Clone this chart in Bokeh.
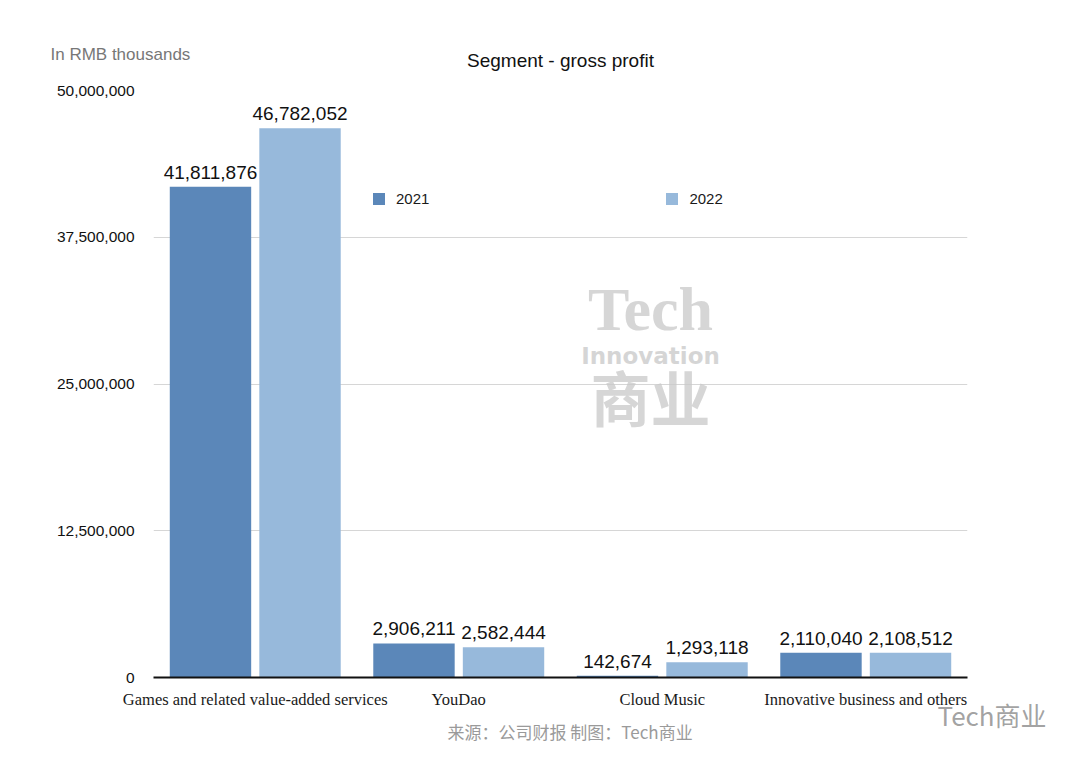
from bokeh.plotting import figure
from bokeh.models import (ColumnDataSource, FactorRange, Label, Legend, LegendItem, Title,
                          FixedTicker, NumeralTickFormatter)
from bokeh.transform import dodge
from bokeh.core.properties import value
from bokeh.embed import file_html
from bokeh.resources import INLINE

categories = ["Games and related value-added services", "YouDao", "Cloud Music",
              "Innovative business and others"]
gp_2021 = [41811876, 2906211, 142674, 2110040]
gp_2022 = [46782052, 2582444, 1293118, 2108512]
y_ticks = [0, 12500000, 25000000, 37500000, 50000000]

C2021 = "#5b87b9"
C2022 = "#97b9db"

src = ColumnDataSource(dict(
    cat=categories,
    v21=gp_2021,
    v22=gp_2022,
    t21=[f"{v:,}" for v in gp_2021],
    t22=[f"{v:,}" for v in gp_2022],
))

p = figure(x_range=FactorRange(*categories, range_padding=0), y_range=(0, 50000000),
           frame_width=814, frame_height=587,
           min_border_left=153, min_border_right=113, min_border_top=90, min_border_bottom=82,
           output_backend="svg", toolbar_location=None, background_fill_color="white",
           border_fill_color="white", outline_line_color=None)

r21 = p.vbar(x=dodge("cat", -0.22, range=p.x_range), top="v21", width=0.4, source=src,
             fill_color=C2021, line_color=None)
r22 = p.vbar(x=dodge("cat", 0.22, range=p.x_range), top="v22", width=0.4, source=src,
             fill_color=C2022, line_color=None)

for col, vcol, off in (("t21", "v21", -0.22), ("t22", "v22", 0.22)):
    p.text(x=dodge("cat", off, range=p.x_range), y=vcol, text=col, source=src,
           text_align="center", text_baseline="bottom", y_offset=-8,
           text_font=value("Liberation Sans"), text_font_size="19px", text_color="#111111")

# axes
p.yaxis.ticker = FixedTicker(ticks=y_ticks)
p.yaxis.formatter = NumeralTickFormatter(format="0,0")
p.yaxis.axis_line_color = None
p.yaxis.major_tick_line_color = None
p.yaxis.minor_tick_line_color = None
p.yaxis.major_label_standoff = 13
p.yaxis.major_label_text_font = "Liberation Sans"
p.yaxis.major_label_text_font_size = "15.5px"
p.yaxis.major_label_text_color = "#111111"

p.xaxis.axis_line_color = "#111111"
p.xaxis.axis_line_width = 2
p.xaxis.major_tick_line_color = None
p.xaxis.minor_tick_line_color = None
p.xaxis.major_label_standoff = 6
p.xaxis.major_label_text_font = "Liberation Serif"
p.xaxis.major_label_text_font_size = "16.5px"
p.xaxis.major_label_text_color = "#1a1a1a"

p.xgrid.grid_line_color = None
p.ygrid.grid_line_color = "#d6d6d6"
p.ygrid.grid_line_width = 1

# legend
legend = Legend(items=[LegendItem(label="2021", renderers=[r21]),
                       LegendItem(label="2022", renderers=[r22])],
                orientation="horizontal", location=(218, 470), spacing=235,
                glyph_width=15, glyph_height=15, label_standoff=10,
                label_text_font="Liberation Sans", label_text_font_size="15px",
                label_text_color="#1a1a1a", border_line_color=None,
                background_fill_alpha=0, padding=0, margin=0)
p.add_layout(legend, "center")

# watermark (centre)
wm = "#c8c8c8"
p.add_layout(Label(x=497, y=369, x_units="screen", y_units="screen", text="Tech",
                   text_align="center", text_baseline="middle", text_font="Liberation Serif",
                   text_font_style="bold", text_font_size="62px", text_color=wm, text_alpha=0.75))
p.add_layout(Label(x=497, y=322, x_units="screen", y_units="screen", text="Innovation",
                   text_align="center", text_baseline="middle", text_font="DejaVu Sans",
                   text_font_style="bold", text_font_size="23px", text_color=wm, text_alpha=0.75))
p.add_layout(Label(x=497, y=282, x_units="screen", y_units="screen", text="商业",
                   text_align="center", text_baseline="middle", text_font="Noto Sans CJK SC",
                   text_font_style="bold", text_font_size="60px", text_color=wm, text_alpha=0.75))

# titles and notes
p.add_layout(Title(text="Segment - gross profit", align="center", standoff=39,
                   text_font="Liberation Sans", text_font_style="normal",
                   text_font_size="19px", text_color="#111111"), "above")
p.add_layout(Title(text="In RMB thousands", align="left", offset=-103, standoff=-70,
                   text_font="Liberation Sans", text_font_style="normal",
                   text_font_size="17px", text_color="#777777"), "above")
p.add_layout(Title(text="Tech商业", align="left", offset=784, standoff=-43,
                   text_font="Noto Sans CJK SC", text_font_style="normal",
                   text_font_size="26px", text_color="#8a8a8a", text_alpha=0.8), "below")
p.add_layout(Title(text="来源：公司财报 制图：Tech商业", align="left", offset=294, standoff=10,
                   text_font="Noto Sans CJK SC", text_font_style="normal",
                   text_font_size="17px", text_color="#9a9a9a"), "below")

open("out.html", "w").write(file_html(p, INLINE))
